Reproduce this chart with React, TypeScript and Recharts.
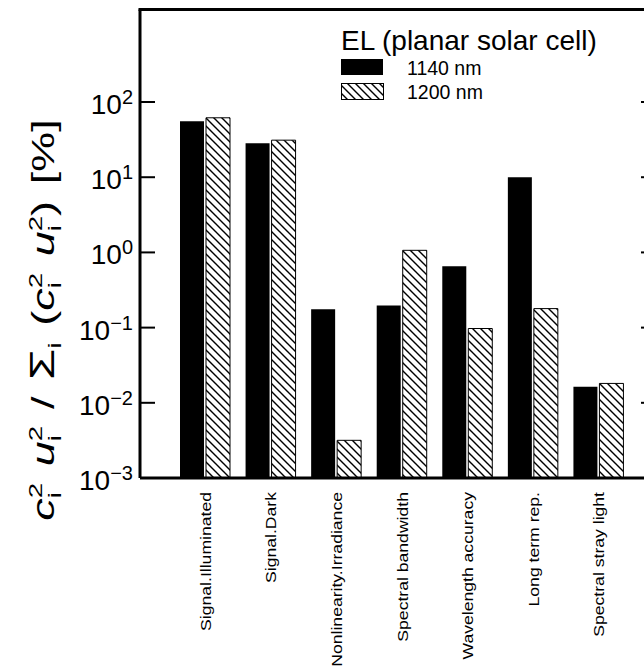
import { BarChart, Bar, XAxis, YAxis, Customized } from "recharts";

// Relative uncertainty contributions, EL of a planar solar cell (log scale)

const categories = [
  "Signal.Illuminated",
  "Signal.Dark",
  "Nonlinearity.Irradiance",
  "Spectral bandwidth",
  "Wavelength accuracy",
  "Long term rep.",
  "Spectral stray light",
];
const nm1140 = [55.6, 28.4, 0.175, 0.197, 0.654, 10.0, 0.0163];
const nm1200 = [61.7, 31.1, 0.00317, 1.066, 0.0973, 0.179, 0.0181];
const yTicks = [0.001, 0.01, 0.1, 1, 10, 100];
const yExponents = ["\u22123", "\u22122", "\u22121", "0", "1", "2"];

const data = categories.map((name, i) => ({
  name,
  a: nm1140[i],
  b: nm1200[i],
}));

const FONT = "'Liberation Sans', Arial, Helvetica, sans-serif";
const W = 680;
const H = 669;
const LEFT = 140;
const RIGHT = 656;
const TOP = 9.5;
const BOTTOM = 478;

function YTickLeft(props: any) {
  const { y, index } = props;
  return (
    <g>
      <line x1={LEFT} x2={LEFT + 15} y1={y} y2={y} stroke="#000" strokeWidth={2} />
      <text x={133} y={y + 12} textAnchor="end" fontSize={28} fontFamily={FONT} fill="#000">
        10
        <tspan dy={-10} fontSize={20}>
          {yExponents[index]}
        </tspan>
      </text>
    </g>
  );
}

function YTickRight(props: any) {
  const { y } = props;
  return <line x1={RIGHT - 15} x2={RIGHT} y1={y} y2={y} stroke="#000" strokeWidth={2} />;
}

function XTick(props: any) {
  const { x, payload } = props;
  const bx = x + 6;
  return (
    <text
      x={0}
      y={0}
      transform={`translate(${bx}, 492) rotate(-90) scale(1.24, 1)`}
      textAnchor="end"
      fontSize={14.2}
      fontFamily={FONT}
      fill="#000"
    >
      {payload.value}
    </text>
  );
}

// c²ᵢ style stacked super/subscript after a symbol
function Stack({ sup = "2", sub = "i" }: { sup?: string; sub?: string }) {
  return (
    <>
      <tspan dy={-12} fontSize={19}>{sup}</tspan>
      <tspan dx={-10.6} dy={19} fontSize={19}>{sub}</tspan>
    </>
  );
}

function Extras() {
  const gap = 11.5;
  return (
    <g fontFamily={FONT} fill="#000">
      <defs>
        <pattern id="hatch" patternUnits="userSpaceOnUse" width={8} height={8}>
          <rect width={8} height={8} fill="#fff" />
          <path d="M-2,-2 L10,10 M-2,6 L2,10 M6,-2 L10,2" stroke="#000" strokeWidth={1.4} />
        </pattern>
      </defs>
      <line x1={LEFT - 1.5} x2={RIGHT} y1={TOP} y2={TOP} stroke="#000" strokeWidth={3} />
      {/* y-axis title */}
      <text
        x={0}
        y={0}
        transform="translate(54, 320) rotate(-90) scale(1.45, 1)"
        textAnchor="middle"
        fontSize={31}
      >
        <tspan fontStyle="italic">c</tspan>
        <Stack />
        <tspan dx={6.4 + gap} dy={-7} fontStyle="italic">u</tspan>
        <Stack />
        <tspan dx={6.4 + gap} dy={-7}>/</tspan>
        <tspan dx={gap} fontSize={35}>{"\u03A3"}</tspan>
        <tspan dy={7} fontSize={19}>i</tspan>
        <tspan dx={gap} dy={-7}>(</tspan>
        <tspan fontStyle="italic">c</tspan>
        <Stack />
        <tspan dx={6.4 + gap} dy={-7} fontStyle="italic">u</tspan>
        <Stack />
        <tspan dx={6.4} dy={-7}>)</tspan>
        <tspan dx={gap}>[%]</tspan>
      </text>
      {/* legend */}
      <text x={341} y={50} fontSize={28}>
        EL (planar solar cell)
      </text>
      <rect x={341} y={59} width={42} height={16} fill="#000" />
      <text x={407} y={75} fontSize={19.5}>
        1140 nm
      </text>
      <rect x={341.5} y={83.5} width={42} height={16} fill="url(#hatch)" stroke="#000" strokeWidth={1} />
      <text x={407} y={99} fontSize={19.5}>
        1200 nm
      </text>
    </g>
  );
}

export default function App() {
  return (
    <div
      style={{
        position: "absolute",
        left: 0,
        top: 0,
        width: 644,
        height: 669,
        overflow: "hidden",
        background: "#fff",
      }}
    >
      <BarChart
        width={W}
        height={H}
        data={data}
        margin={{ top: TOP, right: 0, bottom: 0, left: 0 }}
        barGap={2}
      >
        <Customized component={Extras} />
        <XAxis
          dataKey="name"
          type="category"
          height={H - BOTTOM}
          padding={{ left: 32, right: 25 }}
          axisLine={{ stroke: "#000", strokeWidth: 3 }}
          tickLine={false}
          tick={XTick}
          interval={0}
        />
        <YAxis
          yAxisId="left"
          type="number"
          scale="log"
          domain={[0.001, 1700]}
          allowDataOverflow
          ticks={yTicks}
          width={LEFT}
          axisLine={{ stroke: "#000", strokeWidth: 3 }}
          tickLine={false}
          tick={YTickLeft}
        />
        <YAxis
          yAxisId="right"
          orientation="right"
          type="number"
          scale="log"
          domain={[0.001, 1700]}
          allowDataOverflow
          ticks={yTicks}
          width={W - RIGHT}
          axisLine={{ stroke: "#000", strokeWidth: 3 }}
          tickLine={false}
          tick={YTickRight}
        />
        <Bar yAxisId="left" dataKey="a" fill="#000" barSize={24} isAnimationActive={false} />
        <Bar
          yAxisId="left"
          dataKey="b"
          fill="url(#hatch)"
          stroke="#000"
          strokeWidth={1}
          barSize={24}
          isAnimationActive={false}
        />
      </BarChart>
    </div>
  );
}
